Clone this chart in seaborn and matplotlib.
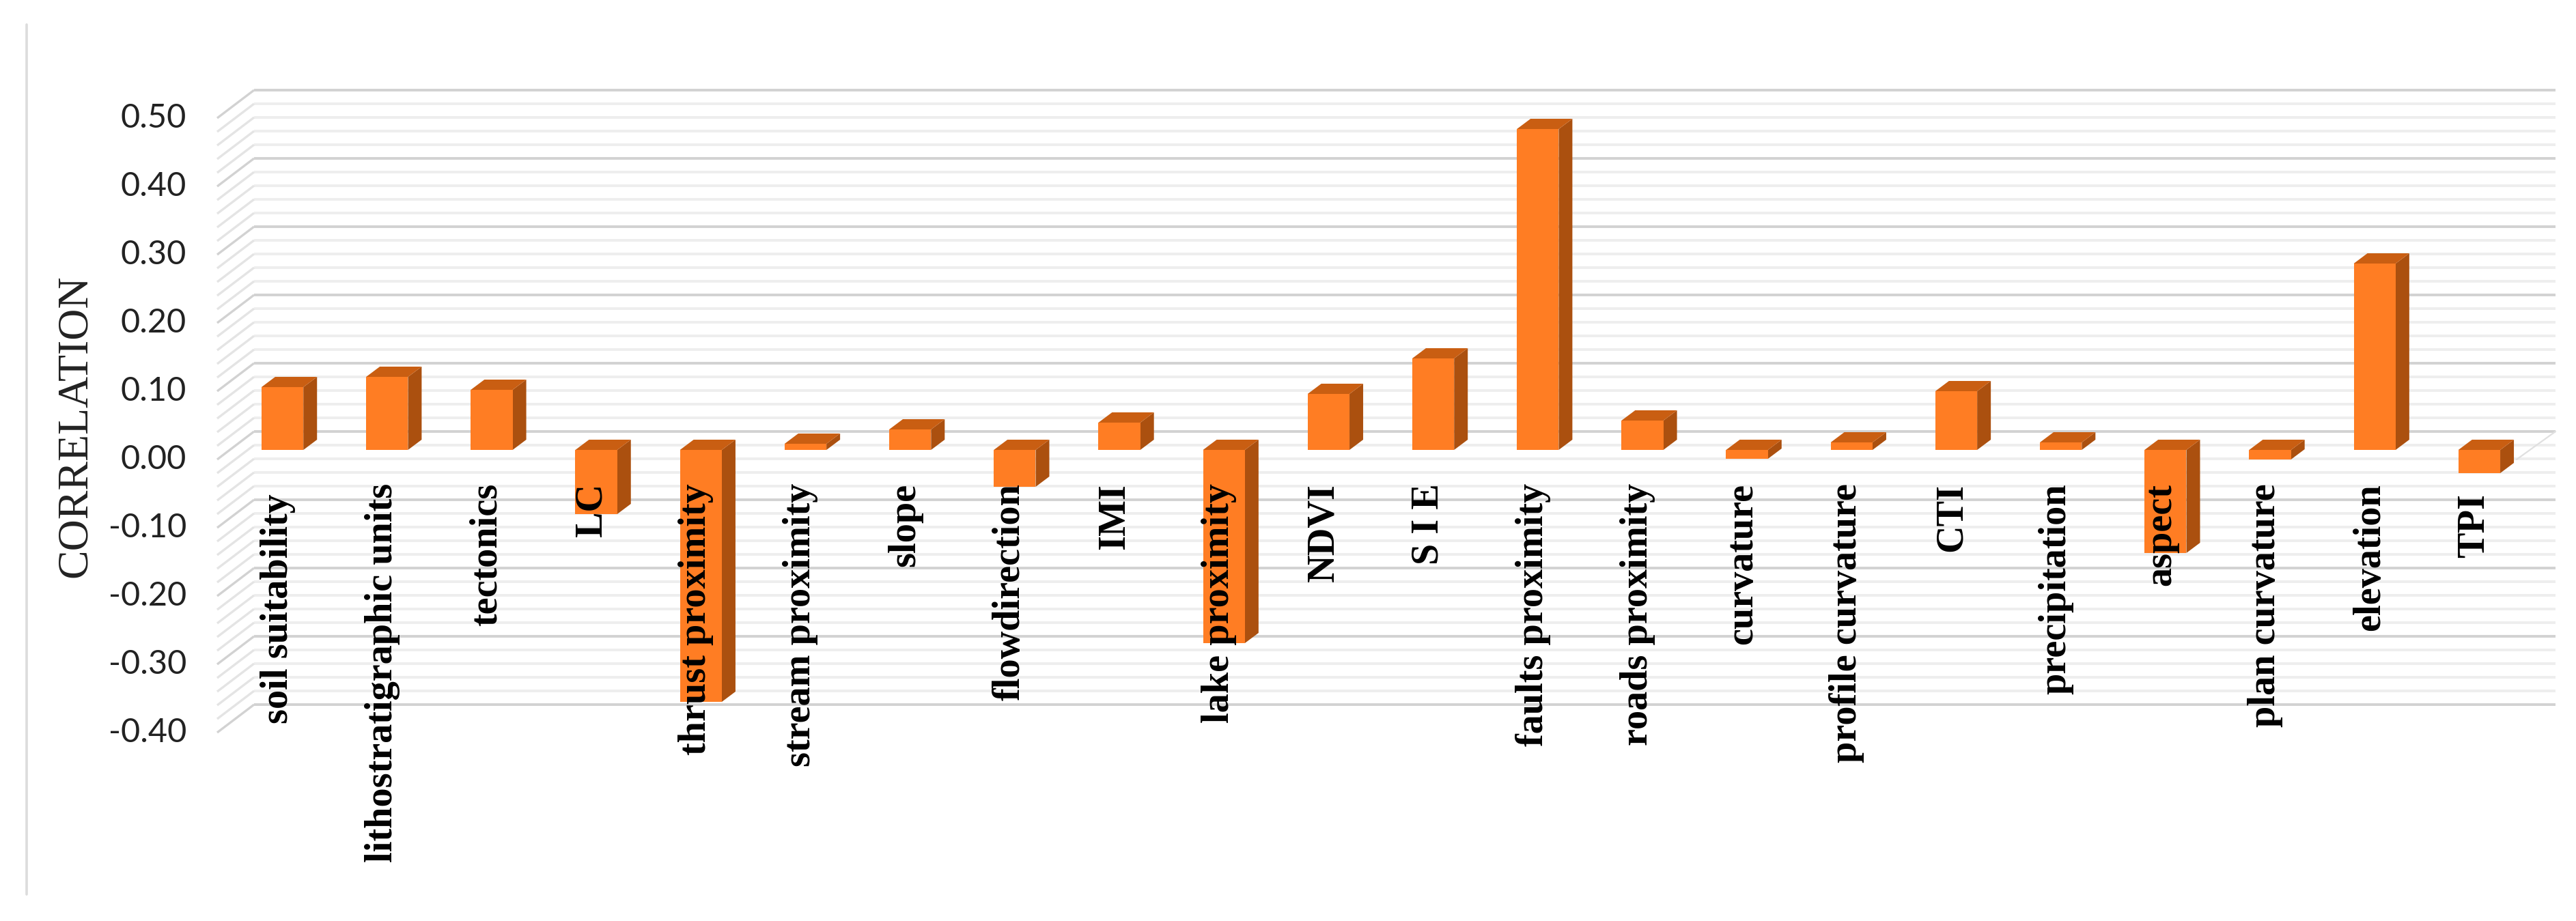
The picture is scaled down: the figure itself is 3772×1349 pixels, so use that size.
import numpy as np
import pandas as pd
import matplotlib
matplotlib.use('Agg')
import matplotlib.pyplot as plt
import matplotlib.transforms as mtrans
from matplotlib.lines import Line2D
import seaborn as sns

# Data
factors = ['soil suitability', 'lithostratigraphic units', 'tectonics', 'LC', 'thrust proximity',
           'stream proximity', 'slope', 'flowdirection', 'IMI', 'lake proximity', 'NDVI', 'S I E',
           'faults proximity', 'roads proximity', 'curvature', 'profile curvature', 'CTI',
           'precipitation', 'aspect', 'plan curvature', 'elevation', 'TPI']
correlation = [0.092, 0.107, 0.088, -0.094, -0.369, 0.009, 0.030, -0.054, 0.040, -0.283, 0.082,
               0.134, 0.470, 0.043, -0.013, 0.011, 0.086, 0.011, -0.151, -0.014, 0.273, -0.034]
y_ticks = [0.50, 0.40, 0.30, 0.20, 0.10, 0.00, -0.10, -0.20, -0.30, -0.40]
lower_labels = ['soil suitability', 'TPI']

df = pd.DataFrame({'factor': factors, 'correlation': correlation})

sns.set_theme(style='white')
plt.rcParams['font.family'] = ['Liberation Serif', 'DejaVu Serif']

W, H, DPI = 3773, 1349, 100
fig = plt.figure(figsize=(W / DPI, H / DPI), dpi=DPI)

# axes = the plane the front of the bars sits on (pixels measured on the reference)
left, right, top, bottom = 337, 3707, 159, 1059
ax = fig.add_axes([left / W, 1 - bottom / H, (right - left) / W, (bottom - top) / H])

sns.barplot(data=df, x='factor', y='correlation', order=factors, color='#FF7D23', saturation=1,
            width=0.4, linewidth=0, ax=ax, zorder=2)
n = len(factors)
ax.set_xlim(-0.5, n - 0.5)
ax.set_ylim(-0.4, 0.5)
ax.set_axisbelow(False)  # labels run over the bars

# conversion from pixels to data units
px_x = (n / (right - left))
px_y = 0.9 / (bottom - top)

# walls: back plane and left side, major lines every 0.1, minor every 0.02
front_dx, front_dy = -19 * px_x, -14 * px_y
back_dx, back_dy = 35 * px_x, 27 * px_y
right_end = -0.5 + back_dx + n
for k in range(46):
    v = -0.4 + k * 0.02
    major = k % 5 == 0
    col = '#d2d2d2' if major else '#eeeeee'
    side = '#d2d2d2' if major else '#e4e4e4'
    ax.plot([-0.5 + back_dx, right_end], [v + back_dy, v + back_dy], color=col, lw=2.8,
            clip_on=False, zorder=1 if major else 0.5, solid_capstyle='butt')
    ax.plot([-0.5 + front_dx, -0.5 + back_dx], [v + front_dy, v + back_dy], color=side, lw=2.4,
            clip_on=False, zorder=1, solid_capstyle='butt')
# floor edge at zero, right hand side
ax.plot([n - 0.5 + front_dx - 3 * px_x, right_end], [front_dy, back_dy], color='#e0e0e0', lw=1.6,
        clip_on=False, zorder=1)

# fake 3D sides of the bars
depth_x, depth_y = 20 * px_x, 15 * px_y
half = 0.2
for i, v in enumerate(correlation):
    xl, xr = i - half, i + half
    up = max(v, 0)
    ax.fill([xr, xr + depth_x, xr + depth_x, xr], [0, depth_y, v + depth_y, v],
            color='#AB500F', lw=0, zorder=1.9, clip_on=False)
    ax.fill([xl, xl + depth_x, xr + depth_x, xr], [up, up + depth_y, up + depth_y, up],
            color='#C95E12', lw=0, zorder=1.9, clip_on=False)
for p in ax.patches:
    p.set_clip_on(False)

# tick labels
ax.set_xlabel('')
ax.set_ylabel('CORRELATION', fontsize=46, color='#222222')
ax.yaxis.set_label_coords((140 - left) / (right - left), (bottom - 624) / (bottom - top))
ax.tick_params(axis='both', length=0, pad=0)
ax.set_xticks(range(n), labels=factors)
ax.set_yticks(y_ticks, labels=['%.2f' % t for t in y_ticks])

for lab in ax.get_xticklabels():
    label_top = 723 if lab.get_text() in lower_labels else 708
    lab.set(rotation=90, rotation_mode='anchor', ha='right', va='baseline', fontsize=40.5,
            fontweight='bold', color='black')
    lab.set_transform(lab.get_transform() + mtrans.ScaledTranslation(
        7 / DPI, (bottom - label_top) / DPI, fig.dpi_scale_trans))
for lab in ax.get_yticklabels():
    lab.set(family=['Lato', 'DejaVu Sans'], fontsize=35, color='#222222', ha='right', va='center')
    lab.set_transform(lab.get_transform() + mtrans.ScaledTranslation(
        (273 - left) / DPI, -14 / DPI, fig.dpi_scale_trans))

sns.despine(ax=ax, left=True, bottom=True)
ax.patch.set_alpha(0)

# thin rule on the left of the figure
fig.add_artist(Line2D([39 / W, 39 / W], [1 - 36 / H, 1 - 1310 / H], color='#dcdcdc', lw=2.6))

fig.savefig('out.png', dpi=DPI)
